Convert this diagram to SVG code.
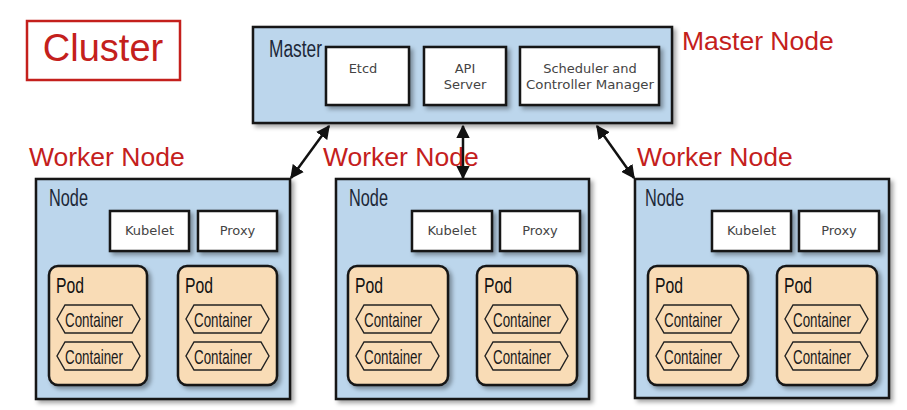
<svg xmlns="http://www.w3.org/2000/svg" width="907" height="410" viewBox="0 0 907 410">
<defs>
<filter id="sh" x="-10%" y="-10%" width="130%" height="130%">
<feDropShadow dx="3" dy="3" stdDeviation="2" flood-color="#000" flood-opacity="0.35"/>
</filter>
<marker id="ah" viewBox="0 0 10 10" refX="9" refY="5" markerWidth="5.5" markerHeight="5.5" orient="auto-start-reverse" markerUnits="strokeWidth">
<path d="M0,0 L10,5 L0,10 z" fill="#111"/>
</marker>
<path id="hex" d="M8,0 H75 L83,14 L75,28 H8 L0,14 Z"/>
</defs>
<style>
.red{font-family:"Liberation Sans",Arial,sans-serif;fill:#c4201c}
.blue{fill:#bcd6ec;stroke:#161616;stroke-width:2.5}
.white{fill:#fff;stroke:#161616;stroke-width:2.5}
.pod{fill:#f9dcb6;stroke:#161616;stroke-width:2.5}
.cont{fill:#f9dcb6;stroke:#222;stroke-width:1.4}
.cond{font-family:"Liberation Sans","DejaVu Sans",sans-serif}
.title{font-size:23px;fill:#1c2838}
.podt{font-size:22px;fill:#111}
.small{font-family:"DejaVu Sans",Verdana,sans-serif;font-size:13px;fill:#444;text-anchor:middle}
.ctext{font-size:21px;fill:#1a1a1a}
.conn{stroke:#111;stroke-width:2.5;fill:none;marker-start:url(#ah);marker-end:url(#ah)}
</style>
<rect width="907" height="410" fill="#fff"/>

<g id="cluster-label">
<rect x="27" y="21" width="153" height="59" fill="none" stroke="#c4201c" stroke-width="2.5"/>
<text x="103" y="61" class="red" font-size="38" text-anchor="middle">Cluster</text>
</g>

<g id="master">
<rect x="253" y="27" width="419" height="96" class="blue" filter="url(#sh)"/>
<text x="269" y="57" class="cond title" textLength="53" lengthAdjust="spacingAndGlyphs">Master</text>
<rect x="326" y="47" width="83" height="58" class="white" filter="url(#sh)"/>
<text x="363" y="73" class="small">Etcd</text>
<rect x="424" y="47" width="82" height="58" class="white" filter="url(#sh)"/>
<text x="465" y="73" class="small">API</text>
<text x="465" y="89" class="small">Server</text>
<rect x="520" y="47" width="139" height="58" class="white" filter="url(#sh)"/>
<text x="590" y="73" class="small">Scheduler and</text>
<text x="590" y="89" class="small" textLength="128" lengthAdjust="spacingAndGlyphs">Controller Manager</text>
</g>
<text x="682" y="50" class="red" font-size="26.5">Master Node</text>

<g id="worker-labels">
<text x="29" y="166" class="red" font-size="26.5">Worker Node</text>
<text x="323" y="166" class="red" font-size="26.5">Worker Node</text>
<text x="637" y="166" class="red" font-size="26.5">Worker Node</text>
</g>

<g id="node1" transform="translate(36,179)">
<rect x="0" y="0" width="254" height="220" class="blue" filter="url(#sh)"/>
<text x="13" y="27" class="cond title" textLength="39" lengthAdjust="spacingAndGlyphs">Node</text>
<rect x="74" y="32" width="79" height="40" class="white" filter="url(#sh)"/>
<text x="113.5" y="56" class="small">Kubelet</text>
<rect x="162" y="32" width="79" height="40" class="white" filter="url(#sh)"/>
<text x="201.5" y="56" class="small">Proxy</text>
<g transform="translate(13,87)">
<rect x="0" y="0" width="98" height="119" rx="9" class="pod" filter="url(#sh)"/>
<text x="7" y="27" class="cond podt" textLength="28" lengthAdjust="spacingAndGlyphs">Pod</text>
<use href="#hex" x="8" y="39" class="cont"/><text x="16" y="61" class="cond ctext" textLength="58" lengthAdjust="spacingAndGlyphs">Container</text>
<use href="#hex" x="8" y="76" class="cont"/><text x="16" y="98" class="cond ctext" textLength="58" lengthAdjust="spacingAndGlyphs">Container</text>
</g>
<g transform="translate(142,87)">
<rect x="0" y="0" width="99" height="119" rx="9" class="pod" filter="url(#sh)"/>
<text x="7" y="27" class="cond podt" textLength="28" lengthAdjust="spacingAndGlyphs">Pod</text>
<use href="#hex" x="8" y="39" class="cont"/><text x="16" y="61" class="cond ctext" textLength="58" lengthAdjust="spacingAndGlyphs">Container</text>
<use href="#hex" x="8" y="76" class="cont"/><text x="16" y="98" class="cond ctext" textLength="58" lengthAdjust="spacingAndGlyphs">Container</text>
</g>
</g>

<g id="node2" transform="translate(336,179)">
<rect x="0" y="0" width="253" height="220" class="blue" filter="url(#sh)"/>
<text x="13" y="27" class="cond title" textLength="39" lengthAdjust="spacingAndGlyphs">Node</text>
<rect x="76" y="32" width="80" height="40" class="white" filter="url(#sh)"/>
<text x="116" y="56" class="small">Kubelet</text>
<rect x="164" y="32" width="80" height="40" class="white" filter="url(#sh)"/>
<text x="204" y="56" class="small">Proxy</text>
<g transform="translate(12,87)">
<rect x="0" y="0" width="100" height="119" rx="9" class="pod" filter="url(#sh)"/>
<text x="7" y="27" class="cond podt" textLength="28" lengthAdjust="spacingAndGlyphs">Pod</text>
<use href="#hex" x="8" y="39" class="cont"/><text x="16" y="61" class="cond ctext" textLength="58" lengthAdjust="spacingAndGlyphs">Container</text>
<use href="#hex" x="8" y="76" class="cont"/><text x="16" y="98" class="cond ctext" textLength="58" lengthAdjust="spacingAndGlyphs">Container</text>
</g>
<g transform="translate(141,87)">
<rect x="0" y="0" width="100" height="119" rx="9" class="pod" filter="url(#sh)"/>
<text x="7" y="27" class="cond podt" textLength="28" lengthAdjust="spacingAndGlyphs">Pod</text>
<use href="#hex" x="8" y="39" class="cont"/><text x="16" y="61" class="cond ctext" textLength="58" lengthAdjust="spacingAndGlyphs">Container</text>
<use href="#hex" x="8" y="76" class="cont"/><text x="16" y="98" class="cond ctext" textLength="58" lengthAdjust="spacingAndGlyphs">Container</text>
</g>
</g>

<g id="node3" transform="translate(635,179)">
<rect x="0" y="0" width="254" height="219" class="blue" filter="url(#sh)"/>
<text x="10" y="27" class="cond title" textLength="39" lengthAdjust="spacingAndGlyphs">Node</text>
<rect x="77" y="32" width="79" height="40" class="white" filter="url(#sh)"/>
<text x="116.5" y="56" class="small">Kubelet</text>
<rect x="164" y="32" width="80" height="40" class="white" filter="url(#sh)"/>
<text x="204" y="56" class="small">Proxy</text>
<g transform="translate(13,87)">
<rect x="0" y="0" width="100" height="119" rx="9" class="pod" filter="url(#sh)"/>
<text x="7" y="27" class="cond podt" textLength="28" lengthAdjust="spacingAndGlyphs">Pod</text>
<use href="#hex" x="8" y="39" class="cont"/><text x="16" y="61" class="cond ctext" textLength="58" lengthAdjust="spacingAndGlyphs">Container</text>
<use href="#hex" x="8" y="76" class="cont"/><text x="16" y="98" class="cond ctext" textLength="58" lengthAdjust="spacingAndGlyphs">Container</text>
</g>
<g transform="translate(142,87)">
<rect x="0" y="0" width="100" height="119" rx="9" class="pod" filter="url(#sh)"/>
<text x="7" y="27" class="cond podt" textLength="28" lengthAdjust="spacingAndGlyphs">Pod</text>
<use href="#hex" x="8" y="39" class="cont"/><text x="16" y="61" class="cond ctext" textLength="58" lengthAdjust="spacingAndGlyphs">Container</text>
<use href="#hex" x="8" y="76" class="cont"/><text x="16" y="98" class="cond ctext" textLength="58" lengthAdjust="spacingAndGlyphs">Container</text>
</g>
</g>

<g id="connectors">
<line x1="329" y1="126" x2="291" y2="178" class="conn"/>
<line x1="463" y1="126" x2="463" y2="178" class="conn"/>
<line x1="597" y1="126" x2="634" y2="178" class="conn"/>
</g>
</svg>
